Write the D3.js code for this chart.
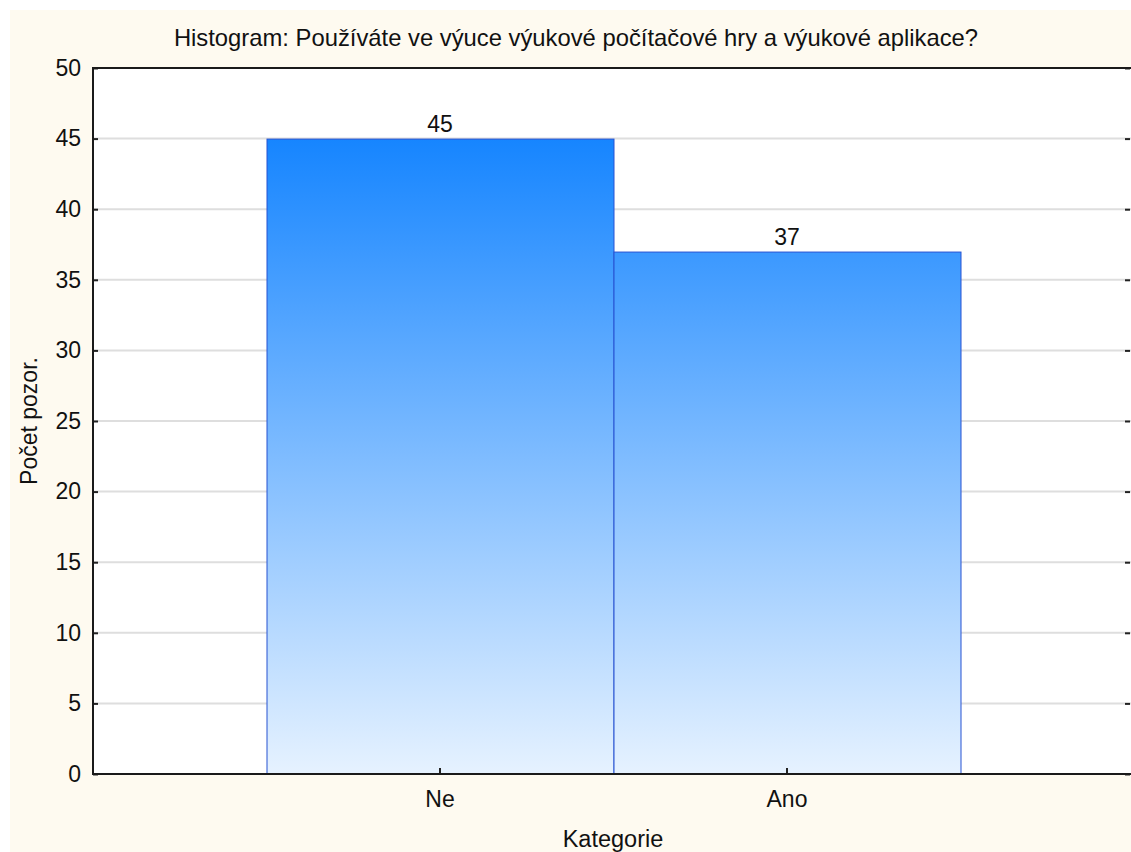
<!DOCTYPE html>
<html>
<head>
<meta charset="utf-8">
<script src="https://cdn.jsdelivr.net/npm/d3@7"></script>
<style>
  html, body { margin: 0; padding: 0; background: #ffffff; overflow: hidden; }
  svg { display: block; font-family: "Liberation Sans", Arial, sans-serif; }
</style>
</head>
<body>
<svg id="chart" width="1131" height="852"></svg>
<script>
// Histogram data: answer categories and observed counts
const categories = ["Ne", "Ano"];
const counts = [45, 37];
const yTicks = [0, 5, 10, 15, 20, 25, 30, 35, 40, 45, 50];

const titleText = "Histogram: Používáte ve výuce výukové počítačové hry a výukové aplikace?";
const xLabel = "Kategorie";
const yLabel = "Počet pozor.";

const W = 1131, H = 852;
const plot = { left: 93, top: 68, right: 1134, bottom: 774 };
const FONT = "Liberation Sans, Arial, sans-serif";

const svg = d3.select("#chart");

// cream panel background
svg.append("rect")
  .attr("x", 10).attr("y", 10)
  .attr("width", W - 10).attr("height", H - 10)
  .attr("fill", "#fefaf0");

// white plot area
svg.append("rect")
  .attr("x", plot.left).attr("y", plot.top)
  .attr("width", plot.right - plot.left).attr("height", plot.bottom - plot.top)
  .attr("fill", "#ffffff");

const y = d3.scaleLinear().domain([0, 50]).range([plot.bottom, plot.top]);

// one empty slot is left for the band to the right of the last category
const slot = (plot.right - plot.left) / 3;
const x = d3.scaleBand()
  .domain(categories)
  .range([plot.left + slot / 2, plot.left + slot / 2 + slot * categories.length])
  .padding(0);

// horizontal grid lines
svg.append("g")
  .selectAll("line")
  .data(yTicks.filter(t => t > 0 && t < 50))
  .join("line")
  .attr("x1", plot.left).attr("x2", plot.right)
  .attr("y1", d => y(d)).attr("y2", d => y(d))
  .attr("stroke", "#dedede").attr("stroke-width", 2);

// vertical gradient shared by the bars
const defs = svg.append("defs");
const grad = defs.append("linearGradient")
  .attr("id", "barFill")
  .attr("gradientUnits", "userSpaceOnUse")
  .attr("x1", 0).attr("x2", 0)
  .attr("y1", y(d3.max(counts))).attr("y2", y(0));
grad.append("stop").attr("offset", "0%").attr("stop-color", "#1685ff");
grad.append("stop").attr("offset", "100%").attr("stop-color", "#e6f2ff");

const data = categories.map((c, i) => ({ cat: c, n: counts[i] }));

svg.append("g")
  .selectAll("rect")
  .data(data)
  .join("rect")
  .attr("x", d => x(d.cat) + 0.5)
  .attr("y", d => y(d.n) + 0.5)
  .attr("width", x.bandwidth())
  .attr("height", d => y(0) - y(d.n))
  .attr("fill", "url(#barFill)")
  .attr("stroke", "#2652d2")
  .attr("stroke-width", 1);

// value labels above the bars
svg.append("g")
  .selectAll("text")
  .data(data)
  .join("text")
  .attr("x", d => x(d.cat) + x.bandwidth() / 2)
  .attr("y", d => y(d.n) - 7)
  .attr("text-anchor", "middle")
  .attr("font-size", 23)
  .attr("fill", "#111")
  .text(d => d.n);

// left axis with inward ticks
const yAxis = d3.axisLeft(y).tickValues(yTicks).tickSize(-5).tickPadding(12);
const gy = svg.append("g")
  .attr("transform", `translate(${plot.left},0)`)
  .call(yAxis);
gy.select(".domain").remove();
gy.selectAll(".tick line").attr("stroke", "#222").attr("stroke-width", 2);
gy.selectAll(".tick text")
  .attr("font-size", 23)
  .attr("font-family", FONT)
  .attr("fill", "#111");

// right axis ticks
const gyr = svg.append("g")
  .attr("transform", `translate(${plot.right - 4},0)`)
  .call(d3.axisRight(y).tickValues(yTicks).tickSize(-5).tickFormat(""));
gyr.select(".domain").remove();
gyr.selectAll(".tick line").attr("stroke", "#222").attr("stroke-width", 2);

// bottom axis with inward ticks
const gx = svg.append("g")
  .attr("transform", `translate(0,${plot.bottom})`)
  .call(d3.axisBottom(x).tickSize(-6).tickPadding(17));
gx.select(".domain").remove();
gx.selectAll(".tick line").attr("stroke", "#222").attr("stroke-width", 2);
gx.selectAll(".tick text")
  .attr("font-size", 23)
  .attr("font-family", FONT)
  .attr("fill", "#111");

// plot frame
svg.append("rect")
  .attr("x", plot.left).attr("y", plot.top)
  .attr("width", plot.right - plot.left).attr("height", plot.bottom - plot.top)
  .attr("fill", "none")
  .attr("stroke", "#1a1a1a")
  .attr("stroke-width", 2);

// title and axis titles
svg.append("text")
  .attr("x", 576).attr("y", 46)
  .attr("text-anchor", "middle")
  .attr("font-size", 23.8)
  .attr("fill", "#111")
  .text(titleText);

svg.append("text")
  .attr("x", 613).attr("y", 847)
  .attr("text-anchor", "middle")
  .attr("font-size", 23.5)
  .attr("fill", "#111")
  .text(xLabel);

svg.append("text")
  .attr("transform", `translate(37,${(plot.top + plot.bottom) / 2}) rotate(-90)`)
  .attr("text-anchor", "middle")
  .attr("font-size", 23)
  .attr("fill", "#111")
  .text(yLabel);
</script>
</body>
</html>
